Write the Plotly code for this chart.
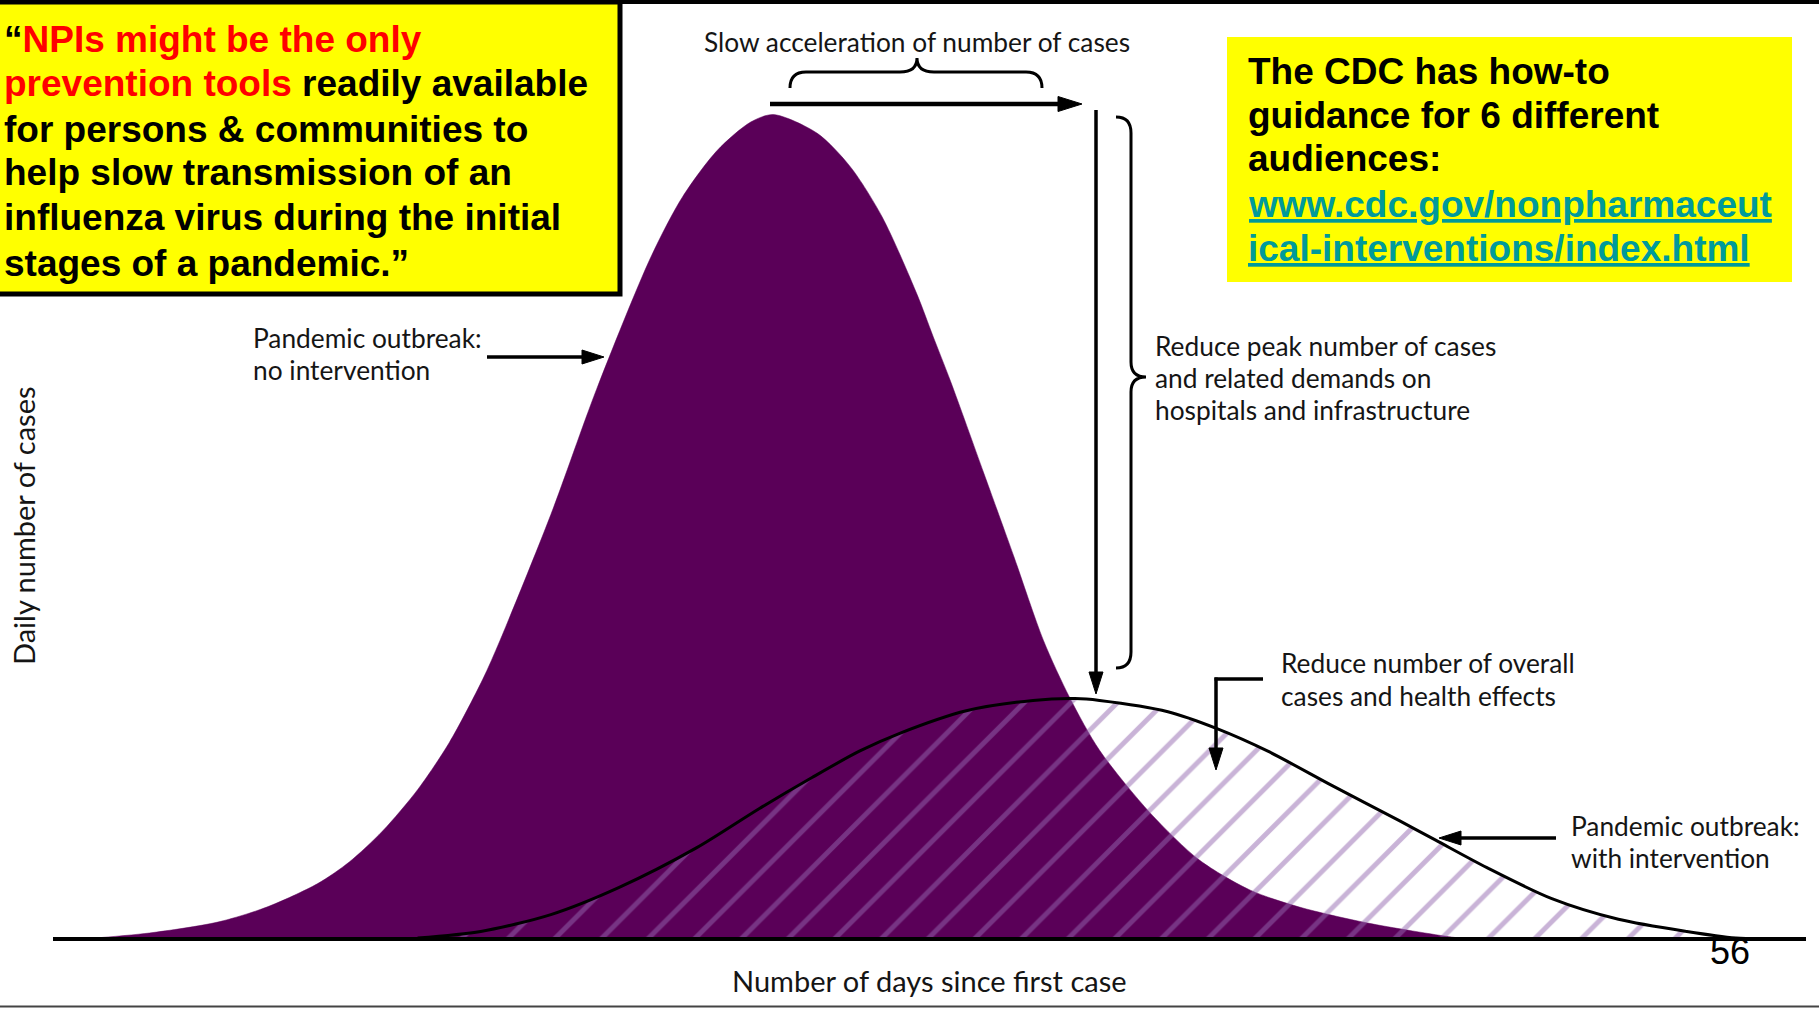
import math
import plotly.graph_objects as go

# ---------------- data ----------------
days_no_intervention = [1.7, 5.5, 9.4, 12.2, 15.1, 16.9, 18.8, 20.8, 22.6, 24.5, 25.5, 28.4, 31.0,
                        34.1, 35.9, 37.9, 39.8, 41.1, 43.6, 45.5, 47.3, 49.3, 50.2, 51.2, 53.1,
                        54.8, 56.5, 58.0, 59.7, 62.6, 65.4, 68.3, 71.1, 75.0, 79.8, 80.8]
cases_no_intervention = [0.0, 0.64, 1.8, 3.4, 5.9, 8.2, 11.5, 15.9, 20.9, 27.6, 31.8, 45.2, 58.5,
                         72.6, 79.0, 84.0, 87.0, 87.8, 85.8, 82.2, 76.9, 68.6, 64.2, 59.4, 49.6,
                         40.8, 31.8, 25.7, 20.1, 13.4, 8.4, 5.2, 3.4, 1.7, 0.2, 0.0]

days_with_intervention = [20.8, 24.4, 28.4, 32.3, 36.7, 40.3, 43.3, 46.0, 48.3, 52.1, 55.9, 58.3,
                          59.7, 63.6, 66.4, 69.3, 73.0, 76.8, 78.9, 81.8, 85.5, 89.3, 93.2, 96.0, 97.4]
cases_with_intervention = [0.1, 0.8, 2.6, 5.5, 9.7, 13.9, 17.2, 20.0, 21.9, 24.3, 25.4, 25.6,
                           25.4, 24.2, 22.4, 20.0, 16.3, 12.6, 10.5, 7.6, 4.3, 2.1, 0.8, 0.1, 0.0]

x_axis_title = "Number of days since first case"
y_axis_title = "Daily number of cases"
label_no_intervention = ["Pandemic outbreak:", "no intervention"]
label_with_intervention = ["Pandemic outbreak:", "with intervention"]
label_slow = "Slow acceleration of number of cases"
label_peak = ["Reduce peak number of cases", "and related demands on", "hospitals and infrastructure"]
label_overall = ["Reduce number of overall", "cases and health effects"]
quote_lines = [
    '“<span style="color:#FF0000">NPIs might be the only</span>',
    '<span style="color:#FF0000">prevention tools</span> readily available',
    'for persons &amp; communities to',
    'help slow transmission of an',
    'influenza virus during the initial',
    'stages of a pandemic.”',
]
cdc_lines = ["The CDC has how-to", "guidance for 6 different", "audiences:"]
cdc_link_lines = ["www.cdc.gov/nonpharmaceut", "ical-interventions/index.html"]
page_number = "56"

# ---------------- styling ----------------
W, H = 1819, 1009
PURPLE = "#5A0058"
HATCH = "#9468AF"
YELLOW = "#FFFF00"
TEAL = "#009A9A"
TXT = "#151515"
LABEL_FONT = "Lato"
BOLD_FONT = "Liberation Sans, Arial"
LABEL_SIZE = 26.3
AXIS_TITLE_SIZE = 29

X_RANGE = [-53 / 17.53, 100 + 13 / 17.53]
Y_RANGE = [-70 / 9.39, 100.0]


def px(x):
    return x / W


def py(y):
    return 1 - y / H


def pt(x, y):
    return f"{px(x):.5f},{py(y):.5f}"


shapes = []
annotations = []


def arrow(x0, y0, x1, y1, w=4, hl=22, hw=15):
    dx, dy = x1 - x0, y1 - y0
    L = math.hypot(dx, dy)
    ux, uy = dx / L, dy / L
    bx, by = x1 - ux * hl, y1 - uy * hl
    shapes.append(dict(type="line", xref="paper", yref="paper", x0=px(x0), y0=py(y0),
                       x1=px(bx + ux * 3), y1=py(by + uy * 3), line=dict(color="black", width=w)))
    nx, ny = -uy, ux
    path = (f"M {pt(x1, y1)} L {pt(bx + nx * hw / 2, by + ny * hw / 2)} "
            f"L {pt(bx - nx * hw / 2, by - ny * hw / 2)} Z")
    shapes.append(dict(type="path", xref="paper", yref="paper", path=path,
                       fillcolor="black", line=dict(color="black", width=1)))


def label(text, x, y, size=LABEL_SIZE, xanchor="left", family=LABEL_FONT, color=TXT, angle=0):
    annotations.append(dict(text=text, x=px(x), y=py(y), xref="paper", yref="paper",
                            xanchor=xanchor, yanchor="middle", showarrow=False,
                            font=dict(family=family, size=size, color=color),
                            textangle=angle, borderpad=0))


fig = go.Figure()

fig.add_trace(go.Scatter(
    x=days_no_intervention, y=cases_no_intervention, mode="lines",
    line=dict(color=PURPLE, width=0.5, shape="spline", smoothing=0.8),
    fill="tozeroy", fillcolor=PURPLE, hoverinfo="skip", name="no intervention"))

fig.add_trace(go.Scatter(
    x=days_with_intervention, y=cases_with_intervention, mode="lines",
    line=dict(color="black", width=3, shape="spline", smoothing=0.8),
    fill="tozeroy", fillcolor="rgba(0,0,0,0)",
    fillpattern=dict(shape="/", fgcolor=HATCH, bgcolor="rgba(0,0,0,0)", size=33, solidity=0.15),
    hoverinfo="skip", name="with intervention"))

# baseline (x axis line)
shapes.append(dict(type="line", xref="x", yref="y", x0=0, x1=100, y0=0, y1=0,
                   line=dict(color="black", width=4), layer="above"))

# top / bottom slide borders
shapes.append(dict(type="rect", xref="paper", yref="paper", x0=0, x1=1, y0=py(4), y1=py(-2),
                   fillcolor="black", line=dict(width=0)))
shapes.append(dict(type="line", xref="paper", yref="paper", x0=0, x1=1, y0=py(1006.5), y1=py(1006.5),
                   line=dict(color="#444444", width=2)))

# yellow boxes
shapes.append(dict(type="rect", xref="paper", yref="paper", x0=px(-10), x1=px(620), y0=py(2), y1=py(294),
                   fillcolor=YELLOW, line=dict(color="black", width=5)))
shapes.append(dict(type="rect", xref="paper", yref="paper", x0=px(1227), x1=px(1792), y0=py(37), y1=py(282),
                   fillcolor=YELLOW, line=dict(width=0)))

# braces
top_brace = (f"M {pt(790, 88)} Q {pt(790, 72)} {pt(806, 72)} L {pt(900, 72)} "
             f"Q {pt(917, 72)} {pt(917, 58)} Q {pt(917, 72)} {pt(934, 72)} "
             f"L {pt(1026, 72)} Q {pt(1042, 72)} {pt(1042, 88)}")
shapes.append(dict(type="path", xref="paper", yref="paper", path=top_brace,
                   line=dict(color="black", width=3), fillcolor="rgba(0,0,0,0)"))
right_brace = (f"M {pt(1116, 117)} Q {pt(1131, 117)} {pt(1131, 133)} L {pt(1131, 362)} "
               f"Q {pt(1131, 377)} {pt(1146, 377)} Q {pt(1131, 377)} {pt(1131, 392)} "
               f"L {pt(1131, 652)} Q {pt(1131, 668)} {pt(1116, 668)}")
shapes.append(dict(type="path", xref="paper", yref="paper", path=right_brace,
                   line=dict(color="black", width=3), fillcolor="rgba(0,0,0,0)"))

# arrows
arrow(770, 104, 1082, 104, w=4.5, hl=24, hw=15)
arrow(1096, 110, 1096, 694, w=3.5, hl=22, hw=14)
arrow(487, 357, 604, 357, w=3.5, hl=22, hw=14)
arrow(1556, 838, 1439, 838, w=3.5, hl=22, hw=14)
shapes.append(dict(type="line", xref="paper", yref="paper", x0=px(1263), x1=px(1214.5),
                   y0=py(679), y1=py(679), line=dict(color="black", width=3.5)))
arrow(1216, 677.5, 1216, 770, w=3.5, hl=22, hw=14)

# quote box text
quote_y = [40, 84, 129, 173, 218, 263]
for t, y in zip(quote_lines, quote_y):
    label(f"<b>{t}</b>", 3, y, size=37, family=BOLD_FONT, color="black")

# CDC box text
cdc_y = [71, 115, 159, 204, 248]
for t, y in zip(cdc_lines, cdc_y[:3]):
    label(f"<b>{t}</b>", 1247, y, size=37, family=BOLD_FONT, color="black")
for t, y in zip(cdc_link_lines, cdc_y[3:]):
    label(f"<b><u>{t}</u></b>", 1247, y, size=37, family=BOLD_FONT, color=TEAL)

# chart labels
label(label_slow, 917, 42, xanchor="center")
for t, y in zip(label_peak, [346, 378, 410]):
    label(t, 1154, y)
for t, y in zip(label_no_intervention, [338, 370]):
    label(t, 252, y)
for t, y in zip(label_overall, [663, 696]):
    label(t, 1280, y)
for t, y in zip(label_with_intervention, [826, 858]):
    label(t, 1570, y)
label(x_axis_title, 929, 980, size=AXIS_TITLE_SIZE, xanchor="center")
label(y_axis_title, 23, 526, size=AXIS_TITLE_SIZE, xanchor="center", angle=-90)
label(page_number, 1730, 951, size=36, xanchor="center", family="Liberation Sans, Arial", color="black")

fig.update_layout(
    width=W, height=H, margin=dict(l=0, r=0, t=0, b=0),
    paper_bgcolor="white", plot_bgcolor="white", showlegend=False,
    xaxis=dict(range=X_RANGE, visible=False, fixedrange=True),
    yaxis=dict(range=Y_RANGE, visible=False, fixedrange=True),
    shapes=shapes, annotations=annotations,
)

fig.write_html("out.html", config={"displayModeBar": False},
               post_script="document.body.style.margin='0';document.body.style.overflow='hidden';")
